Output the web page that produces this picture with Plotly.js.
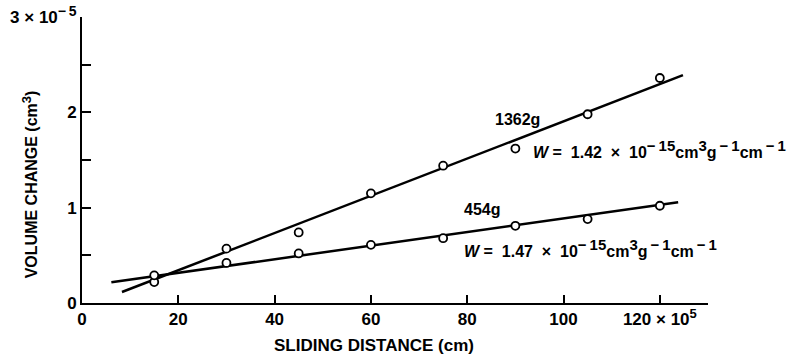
<!DOCTYPE html>
<html>
<head>
<meta charset="utf-8">
<script src="https://cdn.plot.ly/plotly-3.0.1.min.js"></script>
<style>html,body{margin:0;padding:0;background:#fff;}#chart{width:795px;height:354px;}</style>
</head>
<body>
<div id="chart"></div>
<script>
// Sliding distance (x 10^5 cm)
const distance = [15, 30, 45, 60, 75, 90, 105, 120];
// Volume change (x 10^-5 cm^3)
const vol1362 = [0.22, 0.57, 0.74, 1.15, 1.44, 1.62, 1.98, 2.36];
const vol454  = [0.29, 0.42, 0.52, 0.61, 0.68, 0.81, 0.88, 1.02];
// Fitted lines (end points)
const fit1362X = [8.3, 124.8];
const fit1362Y = [0.115, 2.39];
const fit454X = [6.1, 123.8];
const fit454Y = [0.217, 1.057];

const nb = '\u00a0';
const th = '\u2009';
function sup(t, s) { return '<sup><span style="font-size:' + (s || 13) + 'px">' + t + '</span></sup>'; }

// Tick labels
const xTickVals = [0, 20, 40, 60, 80, 100, 120];
const xTickText = ['0', '20', '40', '60', '80', '100', '120 × 10' + sup('5')];
const yTickVals = [0, 1, 2, 3];
const yTickText = ['0', '1', '2', '3 × 10' + sup('−' + th + '5', 14)];

const F = 'Liberation Sans, Arial, sans-serif';

const traces = [
  {x: fit1362X, y: fit1362Y, mode: 'lines', line: {color: '#000', width: 2.5}, hoverinfo: 'skip'},
  {x: fit454X, y: fit454Y, mode: 'lines', line: {color: '#000', width: 2.5}, hoverinfo: 'skip'},
  {x: distance, y: vol1362, mode: 'markers', marker: {symbol: 'circle', size: 8, color: '#fff', line: {color: '#000', width: 1.8}}},
  {x: distance, y: vol454, mode: 'markers', marker: {symbol: 'circle', size: 8, color: '#fff', line: {color: '#000', width: 1.8}}}
];

function wText(v) {
  return '<i>W</i>' + nb + '=' + nb + nb + v + nb + nb + '×' + nb + nb + '10' + sup('−' + th + '15', 15) +
    'cm' + sup('3', 15) + 'g' + sup(th + '−' + th + '1', 15) + 'cm' + sup(th + '−' + th + '1', 15);
}

const annFont = {family: F, size: 16, color: '#000', weight: 'bold'};
const layout = {
  width: 795, height: 354,
  margin: {l: 82, r: 87, t: 17, b: 51},
  paper_bgcolor: '#fff', plot_bgcolor: '#fff',
  showlegend: false,
  font: {family: F, color: '#000'},
  xaxis: {
    range: [0, 130], showgrid: false, zeroline: false,
    showline: true, linecolor: '#000', linewidth: 2,
    ticks: 'inside', ticklen: 8, tickwidth: 2, tickcolor: '#000',
    tickvals: xTickVals, ticktext: xTickText,
    tickfont: {family: F, size: 17, color: '#000', weight: 'bold'},
    fixedrange: true
  },
  yaxis: {
    range: [0, 3], showgrid: false, zeroline: false,
    showline: true, linecolor: '#000', linewidth: 2,
    ticks: 'inside', ticklen: 9, tickwidth: 2, tickcolor: '#000',
    tickvals: yTickVals, ticktext: yTickText,
    tickfont: {family: F, size: 17, color: '#000', weight: 'bold'},
    minor: {tickvals: [0.5, 1.5, 2.5], ticks: 'inside', ticklen: 9, tickwidth: 2, tickcolor: '#000', showgrid: false},
    fixedrange: true
  },
  annotations: [
    {xref: 'paper', yref: 'paper', x: 0.4657, y: 0, yshift: -42, xanchor: 'center', yanchor: 'middle',
     text: 'SLIDING DISTANCE (cm)', showarrow: false, font: {family: F, size: 17, color: '#000', weight: 'bold'}},
    {xref: 'paper', yref: 'paper', x: 0, xshift: -52, y: 0.415, xanchor: 'center', yanchor: 'middle', textangle: -90,
     text: 'VOLUME CHANGE (cm' + sup('3') + ')', showarrow: false, font: {family: F, size: 16, color: '#000', weight: 'bold'}},
    {x: 90.5, y: 1.92, text: '1362g', showarrow: false, xanchor: 'center', yanchor: 'middle', font: annFont},
    {x: 93.2, y: 1.62, text: wText('1.42'), showarrow: false, xanchor: 'left', yanchor: 'middle', font: annFont},
    {x: 83.0, y: 0.98, text: '454g', showarrow: false, xanchor: 'center', yanchor: 'middle', font: annFont},
    {x: 78.9, y: 0.58, text: wText('1.47'), showarrow: false, xanchor: 'left', yanchor: 'middle', font: annFont}
  ]
};

Plotly.newPlot('chart', traces, layout, {displayModeBar: false, staticPlot: true});
</script>
</body>
</html>
